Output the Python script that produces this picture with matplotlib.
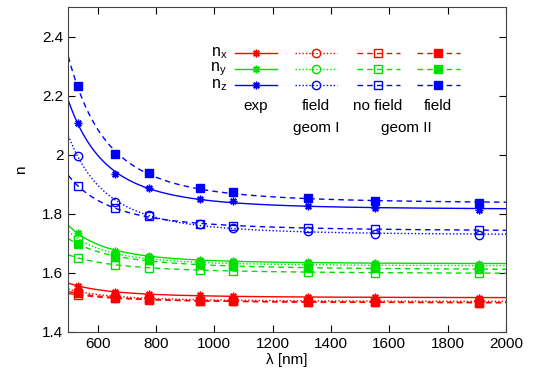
import matplotlib
matplotlib.use("Agg")
import matplotlib.pyplot as plt
import numpy as np

plt.rcParams["font.family"] = ["Liberation Sans", "DejaVu Sans"]
plt.rcParams["font.size"] = 11
plt.rcParams["mathtext.default"] = "regular"

# measured wavelengths [nm]
wl = np.array([532, 660, 775, 950, 1064, 1320, 1550, 1907])

# refractive indices
nx_exp = [1.556, 1.534, 1.528, 1.523, 1.520, 1.518, 1.517, 1.515]
ny_exp = [1.734, 1.675, 1.657, 1.643, 1.640, 1.636, 1.632, 1.630]
nz_exp = [2.108, 1.936, 1.887, 1.851, 1.842, 1.827, 1.821, 1.812]

nx_g1 = [1.537, 1.520, 1.514, 1.508, 1.507, 1.505, 1.504, 1.503]
ny_g1 = [1.717, 1.662, 1.650, 1.635, 1.632, 1.628, 1.625, 1.623]
nz_g1 = [1.997, 1.839, 1.796, 1.765, 1.753, 1.741, 1.732, 1.727]

nx_g2nf = [1.525, 1.514, 1.509, 1.504, 1.503, 1.501, 1.500, 1.499]
ny_g2nf = [1.651, 1.626, 1.617, 1.610, 1.606, 1.603, 1.600, 1.598]
nz_g2nf = [1.895, 1.818, 1.791, 1.766, 1.760, 1.751, 1.748, 1.745]

nx_g2f = [1.530, 1.516, 1.510, 1.504, 1.504, 1.500, 1.500, 1.499]
ny_g2f = [1.698, 1.655, 1.643, 1.626, 1.623, 1.617, 1.615, 1.612]
nz_g2f = [2.232, 2.004, 1.937, 1.887, 1.872, 1.854, 1.843, 1.835]

COLORS = ["#ff0000", "#00e000", "#0000ff"]
ASTER = (8, 2, 0)
STYLES = [
    dict(ls="-", marker=ASTER, mfc="none", ms=5.5),
    dict(ls=(0, (1, 1.5)), marker="o", mfc="none", ms=6),
    dict(ls=(0, (4, 3)), marker="s", mfc="none", ms=5.5),
    dict(ls=(0, (4, 3)), marker="s", mfc=None, ms=5.5),
]
SERIES = [
    [nx_exp, ny_exp, nz_exp],
    [nx_g1, ny_g1, nz_g1],
    [nx_g2nf, ny_g2nf, nz_g2nf],
    [nx_g2f, ny_g2f, nz_g2f],
]

fig = plt.figure(figsize=(5.47, 3.77), dpi=100)
ax = fig.add_axes([0.1249, 0.120, 0.8003, 0.861])

lam = np.linspace(500, 2000, 300)
for style, group in zip(STYLES, SERIES):
    for color, vals in zip(COLORS, group):
        # Cauchy fit n = A + B/l^2 + C/l^4 to the points
        coef = np.polyfit(1.0 / wl**2, vals, 2)
        ax.plot(lam, np.polyval(coef, 1.0 / lam**2), color=color,
                ls=style["ls"], lw=1.0)
        mfc = color if style["mfc"] is None else "none"
        ax.plot(wl, vals, ls="none", marker=style["marker"], ms=style["ms"],
                mfc=mfc, mec=color, mew=1.0, color=color)

ax.set_xlim(500, 2000)
ax.set_ylim(1.4, 2.5)
ax.set_xticks(np.arange(600, 2001, 200))
ax.set_yticks([1.4, 1.6, 1.8, 2.0, 2.2, 2.4])
ax.set_yticklabels([f"{v:g}" for v in [1.4, 1.6, 1.8, 2.0, 2.2, 2.4]])
ax.tick_params(direction="in", top=True, right=True, length=5, width=0.8)
ax.set_xlabel("λ [nm]", labelpad=2)
ax.set_ylabel("n", labelpad=10)
for sp in ax.spines.values():
    sp.set_color("#444444")

# gnuplot-style legend block
W, H = 437.7, 324.7
def axx(px):
    return (px - 68.3) / W
def axy(py):
    return (331.7 - py) / H

rows_y = [53, 69, 85]
cols = [(235, 277, 256), (295, 337, 316), (357, 400, 378), (417, 460, 438)]
labels = ["n$_{x}$", "n$_{y}$", "n$_{z}$"]
for r, (ry, color, lab) in enumerate(zip(rows_y, COLORS, labels)):
    ax.text(axx(227), axy(ry), lab, transform=ax.transAxes, ha="right",
            va="center", fontsize=11.5)
    for (x0, x1, xm), style in zip(cols, STYLES):
        ax.plot([axx(x0), axx(x1)], [axy(ry)] * 2, transform=ax.transAxes,
                color=color, ls=style["ls"], lw=1.0, clip_on=False)
        mfc = color if style["mfc"] is None else "none"
        ax.plot([axx(xm)], [axy(ry)], transform=ax.transAxes,
                marker=style["marker"], ms=style["ms"], mfc=mfc, mec=color,
                mew=1.0, ls="none")

for x, t in zip([256, 316, 378, 438], ["exp", "field", "no field", "field"]):
    ax.text(axx(x), axy(106), t, transform=ax.transAxes, ha="center",
            va="center")
ax.text(axx(316), axy(128), "geom I", transform=ax.transAxes, ha="center",
        va="center")
ax.text(axx(406), axy(128), "geom II", transform=ax.transAxes, ha="center",
        va="center")

fig.savefig("out.png", dpi=100)
